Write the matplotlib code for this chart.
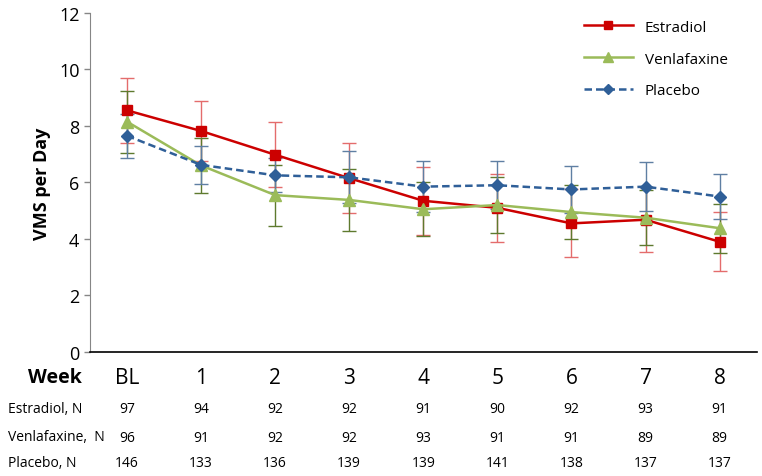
import numpy as np
import matplotlib.pyplot as plt
from matplotlib import transforms

plt.rcParams['font.family'] = ['Open Sans', 'DejaVu Sans']

################## Data ###########################
weeks = ['BL', '1', '2', '3', '4', '5', '6', '7', '8']

estradiol = [8.55, 7.82, 6.98, 6.15, 5.35, 5.10, 4.55, 4.68, 3.90]
estradiol_err = [1.15, 1.05, 1.15, 1.25, 1.20, 1.20, 1.20, 1.15, 1.05]

venlafaxine = [8.15, 6.60, 5.55, 5.38, 5.05, 5.20, 4.95, 4.75, 4.38]
venlafaxine_err = [1.10, 0.98, 1.08, 1.09, 0.96, 0.98, 0.96, 0.97, 0.87]

placebo = [7.65, 6.62, 6.25, 6.18, 5.85, 5.90, 5.75, 5.85, 5.50]
placebo_err = [0.77, 0.68, 0.60, 0.92, 0.89, 0.85, 0.82, 0.86, 0.81]

n_estradiol = [97, 94, 92, 92, 91, 90, 92, 93, 91]
n_venlafaxine = [96, 91, 92, 92, 93, 91, 91, 89, 89]
n_placebo = [146, 133, 136, 139, 139, 141, 138, 137, 137]

x = np.arange(len(weeks))

fig = plt.figure(figsize=(7.62, 4.77), dpi=100)
ax = fig.add_axes([0.118, 0.260, 0.875, 0.711])

# error bars first, lines on top
ax.errorbar(x, estradiol, yerr=estradiol_err, fmt='none', ecolor='#E46C6C', elinewidth=1, capsize=5, capthick=1, zorder=2)
ax.errorbar(x, venlafaxine, yerr=venlafaxine_err, fmt='none', ecolor='#5E7A2E', elinewidth=1, capsize=5, capthick=1, zorder=2)
ax.errorbar(x, placebo, yerr=placebo_err, fmt='none', ecolor='#5F7FA3', elinewidth=1, capsize=5, capthick=1, zorder=2)

ax.plot(x, estradiol, color='#CC0000', lw=1.8, marker='s', ms=7, label='Estradiol', zorder=4)
ax.plot(x, venlafaxine, color='#9BBB59', lw=1.8, marker='^', ms=8, label='Venlafaxine', zorder=4)
ax.plot(x, placebo, color='#2F5F98', lw=1.8, ls='--', dashes=(3, 1.6), marker='D', ms=6, label='Placebo', zorder=5)

ax.set_xlim(-0.5, 8.5)
ax.set_ylim(0, 12)
ax.set_yticks(np.arange(0, 13, 2))
ax.tick_params(axis='y', labelsize=13, colors='#000000', length=4, width=1)
ax.tick_params(axis='y', color='#868686')
ax.set_xticks([])
ax.spines['top'].set_visible(False)
ax.spines['right'].set_visible(False)
ax.spines['left'].set_color('#868686')
ax.spines['bottom'].set_color('black')
ax.spines['bottom'].set_linewidth(1.2)
ax.set_ylabel('VMS per Day', fontsize=13, fontweight='bold', labelpad=6)

leg = ax.legend(loc='upper left', bbox_to_anchor=(0.72, 1.02), frameon=False, fontsize=11,
                handlelength=3.2, labelspacing=1.1, markerscale=0.85)

# table below the axis
trans = transforms.blended_transform_factory(ax.transData, ax.transAxes)
rows = [(-0.074, weeks, 15), (-0.168, n_estradiol, 10), (-0.251, n_venlafaxine, 10), (-0.327, n_placebo, 10)]
for ypos, vals, fs in rows:
    for xi, v in zip(x, vals):
        ax.text(xi, ypos, str(v), transform=trans, ha='center', va='center', fontsize=fs, clip_on=False)

fig.text(0.072, 1 - 378 / 477, 'Week', ha='center', va='center', fontsize=14, fontweight='bold')
fig.text(0.010, 1 - 410 / 477, 'Estradiol, N', ha='left', va='center', fontsize=10)
fig.text(0.010, 1 - 438 / 477, 'Venlafaxine,  N', ha='left', va='center', fontsize=10)
fig.text(0.010, 1 - 464 / 477, 'Placebo, N', ha='left', va='center', fontsize=10)

plt.savefig('out.png', dpi=100)
